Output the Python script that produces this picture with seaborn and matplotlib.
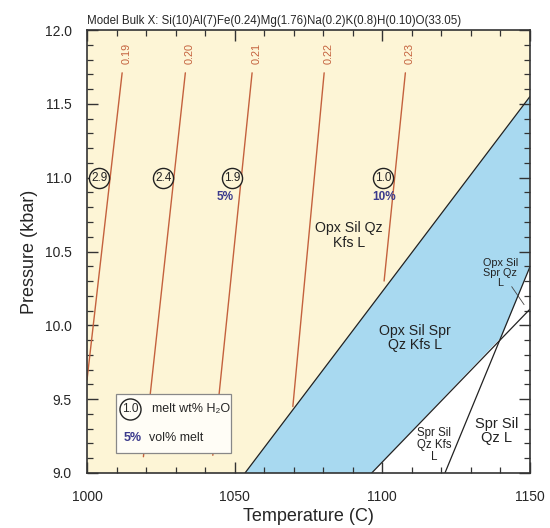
import numpy as np
import pandas as pd
import matplotlib
matplotlib.use("Agg")
import matplotlib.pyplot as plt
from matplotlib.ticker import MultipleLocator, FormatStrFormatter
import seaborn as sns

# isopleth lines (top point, bottom point) and their labels
iso_labels = ["0.19", "0.20", "0.21", "0.22", "0.23"]
iso_t_top = [1011.9, 1033.3, 1055.9, 1080.3, 1107.8]
iso_p_top = [11.71, 11.71, 11.71, 11.71, 11.71]
iso_t_bot = [1000.0, 1019.1, 1042.6, 1069.7, 1100.6]
iso_p_bot = [9.63, 9.11, 9.12, 9.45, 10.30]

# circled melt water contents and vol% melt
h2o_labels = ["2.9", "2.4", "1.9", "1.0"]
h2o_t = [1004.2, 1025.9, 1049.2, 1100.3]
h2o_p = [11.0, 11.0, 11.0, 11.0]
vol_labels = ["5%", "10%"]
vol_t = [1046.7, 1100.6]
vol_p = [10.87, 10.87]

# field boundaries
blue_top_t = [1053.5, 1150.0]
blue_top_p = [9.0, 11.55]
line_a_t = [1096.4, 1150.0]
line_a_p = [9.0, 10.11]
line_b_t = [1121.2, 1150.0]
line_b_p = [9.0, 10.397]
pointer_t = [1143.8, 1148.0]
pointer_p = [10.262, 10.14]
cross_t, cross_p = 1140.4, 9.923

yellow = "#fdf5d6"
blue = "#a8d9f0"
red = "#c4613d"
purple = "#3b3a8c"

sns.set_style("ticks")
plt.rcParams["font.family"] = ["Liberation Sans", "DejaVu Sans"]

fig, ax = plt.subplots(figsize=(5.5, 5.28), dpi=100)
fig.subplots_adjust(left=87/550, right=530/550, bottom=1-473/528, top=1-30/528)

# fields
ax.fill([1000, blue_top_t[0], blue_top_t[1], 1150, 1000],
        [9.0, blue_top_p[0], blue_top_p[1], 12.0, 12.0], color=yellow, lw=0, zorder=0)
ax.fill([blue_top_t[0], blue_top_t[1], line_b_t[1], cross_t, line_a_t[0]],
        [blue_top_p[0], blue_top_p[1], line_b_p[1], cross_p, line_a_p[0]],
        color=blue, lw=0, zorder=0)

for tt, pp in [(blue_top_t, blue_top_p), (line_a_t, line_a_p), (line_b_t, line_b_p)]:
    sns.lineplot(x=tt, y=pp, ax=ax, color="#222222", lw=0.9, sort=False, estimator=None)
sns.lineplot(x=pointer_t, y=pointer_p, ax=ax, color="#444444", lw=0.6, sort=False, estimator=None)

# isopleths
for lab, t0, p0, t1, p1 in zip(iso_labels, iso_t_top, iso_p_top, iso_t_bot, iso_p_bot):
    sns.lineplot(x=[t0, t1], y=[p0, p1], ax=ax, color=red, lw=1.0, sort=False, estimator=None)
    ax.text(t0 + 1.5, 11.84, lab, rotation=90, color=red, fontsize=7.8,
            ha="center", va="center")

# circles
sns.scatterplot(x=h2o_t, y=h2o_p, ax=ax, s=210, facecolor=yellow, edgecolor="#222222",
                linewidth=1.0, zorder=5)
for lab, t, p in zip(h2o_labels, h2o_t, h2o_p):
    ax.text(t, p, lab, fontsize=8.5, ha="center", va="center", color="#222222", zorder=6)
for lab, t, p in zip(vol_labels, vol_t, vol_p):
    ax.text(t, p, lab, fontsize=8.5, ha="center", va="center", color=purple,
            fontweight="bold", zorder=6)

# field labels
ax.text(1088.8, 10.61, "Opx Sil Qz\nKfs L", fontsize=10.2, ha="center", va="center",
        linespacing=1.05, color="#222222")
ax.text(1111.1, 9.915, "Opx Sil Spr\nQz Kfs L", fontsize=10.2, ha="center", va="center",
        linespacing=1.05, color="#222222")
ax.text(1138.7, 9.285, "Spr Sil\nQz L", fontsize=10.5, ha="center", va="center",
        linespacing=1.05, color="#222222")
ax.text(1117.6, 9.187, "Spr Sil\nQz Kfs\nL", fontsize=8.3, ha="center", va="center",
        linespacing=1.0, color="#222222")
ax.text(1139.9, 10.355, "Opx Sil\nSpr Qz\nL", fontsize=7.8, ha="center", va="center",
        linespacing=1.0, color="#222222")

# key box
ax.fill([1009.8, 1048.8, 1048.8, 1009.8], [9.135, 9.135, 9.535, 9.535],
        facecolor="#fffdf6", edgecolor="#888888", lw=0.9, zorder=4)
sns.scatterplot(x=[1014.5], y=[9.433], ax=ax, s=230, facecolor="#fffdf6",
                edgecolor="#222222", linewidth=1.0, zorder=5)
ax.text(1014.5, 9.433, "1.0", fontsize=8.5, ha="center", va="center", zorder=6)
ax.text(1021.9, 9.433, "melt wt% H₂O", fontsize=9, ha="left", va="center", zorder=6)
ax.text(1015.4, 9.236, "5%", fontsize=9, ha="center", va="center", color=purple,
        fontweight="bold", zorder=6)
ax.text(1021.0, 9.236, "vol% melt", fontsize=9, ha="left", va="center", zorder=6)

ax.set_xlim(1000, 1150)
ax.set_ylim(9.0, 12.0)
ax.xaxis.set_major_locator(MultipleLocator(50))
ax.xaxis.set_minor_locator(MultipleLocator(10))
ax.yaxis.set_major_locator(MultipleLocator(0.5))
ax.yaxis.set_minor_locator(MultipleLocator(0.1))
ax.yaxis.set_major_formatter(FormatStrFormatter("%.1f"))
ax.tick_params(which="both", direction="in", top=True, right=True, color="#333333")
ax.tick_params(which="major", length=8, width=1.0, labelsize=10)
ax.tick_params(which="minor", length=4.5, width=0.9)
ax.tick_params(axis="x", which="major", pad=12)
ax.tick_params(axis="y", which="major", pad=11)
for sp in ax.spines.values():
    sp.set_color("#333333")
    sp.set_linewidth(1.2)

ax.set_xlabel("Temperature (C)", fontsize=13, labelpad=3)
ax.set_ylabel("Pressure (kbar)", fontsize=13, labelpad=5)
ax.set_title("Model Bulk X: Si(10)Al(7)Fe(0.24)Mg(1.76)Na(0.2)K(0.8)H(0.10)O(33.05)",
             loc="left", fontsize=8.3, pad=4)

fig.savefig("out.png", dpi=100)
